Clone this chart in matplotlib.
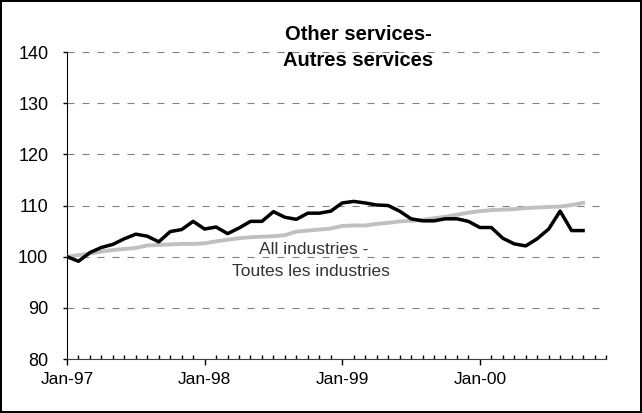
import numpy as np
import pandas as pd
import matplotlib
matplotlib.use('Agg')
import matplotlib.pyplot as plt
from matplotlib.ticker import FixedLocator, MultipleLocator

months = pd.date_range('1997-01-01', '2000-10-01', freq='MS')

other_services = [100.0, 99.1, 100.8, 101.8, 102.4, 103.5, 104.4, 104.0, 102.9, 104.9,
                  105.3, 106.9, 105.4, 105.8, 104.5, 105.6, 106.9, 106.9, 108.8, 107.7,
                  107.3, 108.5, 108.5, 108.9, 110.5, 110.8, 110.5, 110.1, 110.0, 108.9,
                  107.4, 107.0, 107.0, 107.4, 107.4, 106.9, 105.7, 105.7, 103.6, 102.5,
                  102.1, 103.5, 105.4, 108.9, 105.1, 105.1]

all_industries = [100.0, 100.3, 100.6, 101.0, 101.3, 101.5, 101.7, 102.2, 102.3, 102.4,
                  102.5, 102.5, 102.6, 103.0, 103.3, 103.6, 103.8, 103.9, 104.0, 104.2,
                  104.9, 105.1, 105.3, 105.5, 106.0, 106.1, 106.1, 106.4, 106.6, 106.9,
                  107.0, 107.2, 107.5, 107.8, 108.2, 108.6, 108.9, 109.1, 109.2, 109.3,
                  109.5, 109.6, 109.7, 109.8, 110.1, 110.5]

year_labels = ['Jan-97', 'Jan-98', 'Jan-99', 'Jan-00']
n_axis_months = 48

x = np.arange(len(months))

plt.rcParams['font.family'] = ['Liberation Sans', 'DejaVu Sans']

fig = plt.figure(figsize=[6.42, 4.13], dpi=100)
fig.patch.set_edgecolor('black')
fig.patch.set_linewidth(1.5)
ax = fig.add_axes([67 / 642, 1 - 359 / 413, (606 - 67) / 642, (359 - 52) / 413])

ax.plot(x, all_industries, color='#c0c0c0', linewidth=2.8, solid_joinstyle='round', zorder=3)
ax.plot(x, other_services, color='black', linewidth=2.5, solid_joinstyle='round', zorder=4)

ax.set_xlim(0, n_axis_months - 1)
ax.set_ylim(80, 140)
ax.yaxis.set_major_locator(MultipleLocator(10))
ax.grid(axis='y', color='#808080', linestyle=(0, (6.3, 7.2)), linewidth=0.8)
ax.set_axisbelow(True)

ax.xaxis.set_major_locator(FixedLocator(np.arange(0, n_axis_months, 12)))
ax.xaxis.set_minor_locator(FixedLocator(np.arange(0, n_axis_months)))
ax.set_xticklabels(year_labels)
ax.tick_params(axis='x', which='major', direction='out', length=4.5, width=1, pad=5,
               labelsize=12.5, colors='black')
ax.tick_params(axis='x', which='minor', direction='in', length=3, width=1)
ax.tick_params(axis='y', direction='out', length=3, width=1, labelsize=13, pad=10.5)

for side in ['top', 'right']:
    ax.spines[side].set_visible(False)
ax.spines['left'].set_color('black')
ax.spines['bottom'].set_color('#404040')

fig.text(358 / 642, 1 - 35 / 413, 'Other services-', ha='center', va='center',
         fontsize=14.5, fontweight='bold')
fig.text(358 / 642, 1 - 60 / 413, 'Autres services', ha='center', va='center',
         fontsize=14.5, fontweight='bold')

ax.text(21.5, 101.4, 'All industries -', ha='center', va='center', fontsize=12.5, color='#333333')
ax.text(21.3, 97.1, 'Toutes les industries', ha='center', va='center', fontsize=12.5, color='#333333')

fig.savefig('out.png', dpi=100)
plt.close(fig)
